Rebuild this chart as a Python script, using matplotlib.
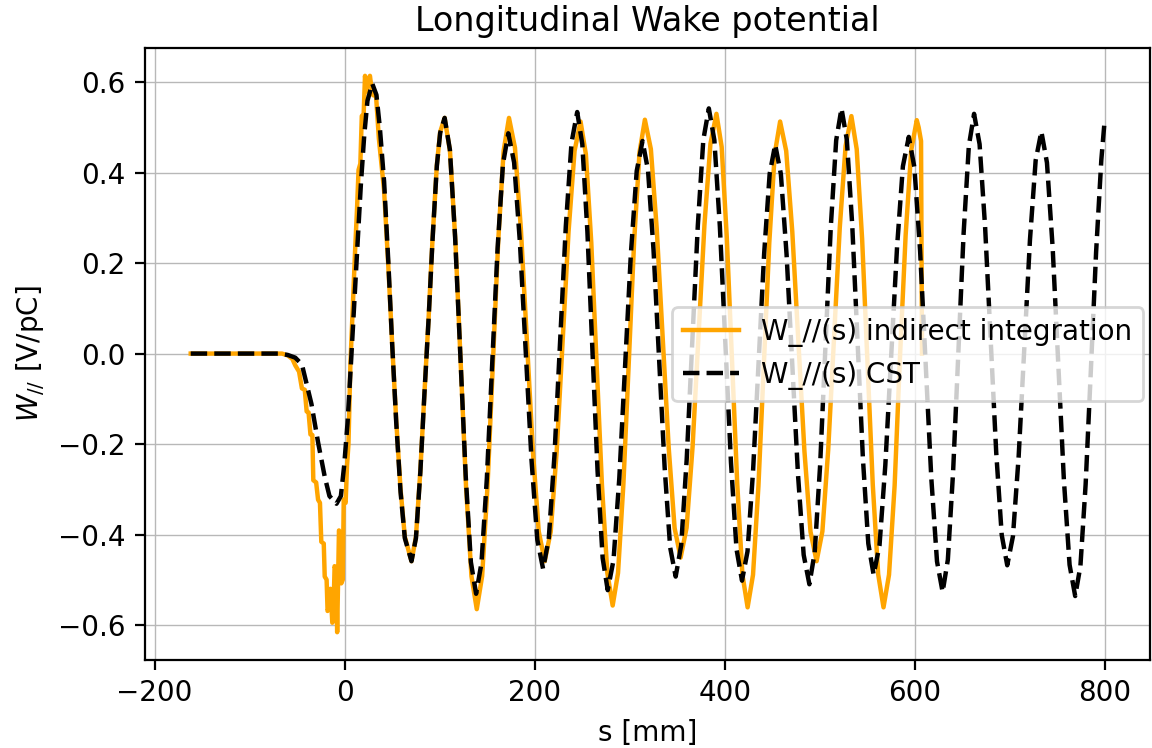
import matplotlib
matplotlib.use('Agg')
import matplotlib.pyplot as plt

# CST wake potential (s in mm, W in V/pC)
s_cst = [-162, -140, -120, -100, -80, -70, -60, -52, -45, -42, -35, -28, -21, -16, -8.6, -4, -0.5, 3, 6.5,
         10, 13.6, 17, 20.6, 24, 29, 33.4, 37, 41.5, 46, 50, 54.3, 58.8, 63.3, 70.3, 75, 79.6, 84, 88.3,
         92.5, 97, 100.5, 105.2,
         110.7, 116.2, 121.8, 127.3, 132.8, 138.3,
         143.95, 149.6, 155.25, 160.9, 166.55, 172.2,
         178.3, 184.4, 190.5, 196.6, 202.7, 208.8,
         214.8, 220.8, 226.75, 232.7, 238.7, 244.7,
         250.05, 255.4, 260.75, 266.1, 271.45, 276.8,
         282.9, 289.0, 295.1, 301.2, 307.3, 313.4,
         319.2, 325.0, 330.85, 336.7, 342.5, 348.3,
         354.1, 359.9, 365.75, 371.6, 377.4, 383.2,
         389.0, 394.8, 400.65, 406.5, 412.3, 418.1,
         423.9, 429.7, 435.55, 441.4, 447.2, 453.0,
         459.0, 465.0, 471.0, 477.0, 483.0, 489.0,
         494.6, 500.3, 505.9, 511.5, 517.2, 522.8,
         528.4, 534.1, 539.7, 545.3, 551.0, 556.6,
         562.8, 568.9, 575.1, 581.3, 587.4, 593.6,
         599.5, 605.5, 611.4, 617.3, 623.3, 629.2,
         634.7, 640.2, 645.75, 651.3, 656.8, 662.3,
         668.1, 673.9, 679.75, 685.6, 691.4, 697.2,
         703.2, 709.2, 715.15, 721.1, 727.1, 733.1,
         739.0, 745.0, 750.9, 756.8, 762.8, 768.7,
         774.2, 779.7, 785.2, 790.7, 796.2, 799.4]
w_cst = [0, 0, 0, 0, 0, 0, -0.003, -0.009, -0.024, -0.05, -0.111, -0.196, -0.272, -0.315, -0.332, -0.315,
         -0.247, -0.154, -0.026, 0.109, 0.245, 0.372, 0.483, 0.559, 0.597, 0.572, 0.50, 0.38, 0.20, 0.02,
         -0.154, -0.306, -0.408, -0.459, -0.408, -0.263, -0.086, 0.076, 0.253, 0.415, 0.488, 0.521,
         0.451, 0.258, -0.005, -0.268, -0.461, -0.531,
         -0.463, -0.2765, -0.022, 0.2325, 0.419, 0.487,
         0.4225, 0.246, 0.0055, -0.235, -0.4115, -0.476,
         -0.408, -0.2235, 0.029, 0.2815, 0.466, 0.534,
         0.463, 0.270, 0.0055, -0.259, -0.452, -0.523,
         -0.4565, -0.275, -0.0265, 0.222, 0.4035, 0.470,
         0.4055, 0.229, -0.0115, -0.252, -0.4285, -0.493,
         -0.424, -0.234, 0.0245, 0.283, 0.4725, 0.542,
         0.472, 0.281, 0.020, -0.241, -0.432, -0.502,
         -0.4374, -0.261, -0.020, 0.221, 0.3974, 0.462,
         0.397, 0.219, -0.024, -0.267, -0.445, -0.510,
         -0.4395, -0.247, 0.016, 0.279, 0.4715, 0.542,
         0.473, 0.284, 0.0265, -0.231, -0.420, -0.489,
         -0.424, -0.247, -0.005, 0.237, 0.414, 0.479,
         0.4116, 0.2275, -0.024, -0.2755, -0.4596, -0.527,
         -0.456, -0.263, 0.0015, 0.266, 0.459, 0.530,
         0.463, 0.2805, 0.031, -0.2185, -0.401, -0.468,
         -0.404, -0.228, 0.0115, 0.251, 0.427, 0.491,
         0.422, 0.234, -0.0225, -0.279, -0.467, -0.536,
         -0.470, -0.289, -0.0365, 0.224, 0.428, 0.508]

# Indirect integration wake potential
s_ind = [-162, -140, -120, -100, -80, -66, -60, -55, -52, -48, -45, -42, -40, -38, -36, -34, -33, -30,
         -28, -26, -24.6, -22, -21, -19, -18, -16, -15, -13, -12, -10.6, -9, -7.9, -6, -4.5, -3.6, -2,
         -1, 1, 2.5, 4, 6, 8.5, 11, 13, 14.6, 16.5, 18, 20, 21.4, 23, 24.5, 26.6, 28, 30, 33, 36,
         41.5, 46, 50, 54.3, 58.8, 63.3, 70.3, 75, 79.6, 84, 88.3, 92.5, 97, 100.5, 105.2,
         110.8, 116.5, 122.1, 127.7, 133.4, 139.0,
         144.65, 150.3, 155.95, 161.6, 167.25, 172.9,
         179.2, 185.4, 191.7, 198.0, 204.2, 210.5,
         216.8, 223.1, 229.35, 235.6, 241.9, 248.2,
         253.8, 259.5, 265.1, 270.7, 276.4, 282.0,
         287.65, 293.3, 298.95, 304.6, 310.25, 315.9,
         322.2, 328.4, 334.7, 341.0, 347.2, 353.5,
         359.8, 366.1, 372.35, 378.6, 384.9, 391.2,
         396.7, 402.1, 407.6, 413.1, 418.5, 424.0,
         429.7, 435.4, 441.1, 446.8, 452.5, 458.2,
         464.6, 471.0, 477.4, 483.8, 490.2, 496.6,
         502.7, 508.8, 514.9, 521.0, 527.1, 533.2,
         538.8, 544.5, 550.1, 555.7, 561.4, 567.0,
         572.8, 578.7, 584.5, 590.3, 596.2, 602.0,
         604.0, 606.5, 607.5]
w_ind = [0, 0, 0, 0, 0, 0, -0.004, -0.012, -0.026, -0.04, -0.077, -0.08, -0.128, -0.13, -0.179, -0.18,
         -0.28, -0.285, -0.323, -0.33, -0.416, -0.42, -0.493, -0.50, -0.569, -0.56, -0.52, -0.595, -0.59,
         -0.47, -0.48, -0.616, -0.391, -0.40, -0.508, -0.50, -0.323, -0.33, -0.247, -0.20, -0.026, 0.10,
         0.229, 0.32, 0.406, 0.42, 0.525, 0.53, 0.614, 0.58, 0.60, 0.614, 0.59, 0.571, 0.57, 0.475,
         0.36, 0.19, 0.02, -0.15, -0.30, -0.405, -0.459, -0.405, -0.26, -0.085, 0.078, 0.255, 0.417, 0.49, 0.521,
         0.448, 0.2495, -0.022, -0.2935, -0.492, -0.565,
         -0.492, -0.2935, -0.022, 0.2495, 0.448, 0.521,
         0.455, 0.276, 0.031, -0.214, -0.393, -0.459,
         -0.394, -0.216, 0.027, 0.270, 0.448, 0.513,
         0.441, 0.2455, -0.022, -0.2895, -0.485, -0.557,
         -0.485, -0.2885, -0.020, 0.2485, 0.445, 0.517,
         0.452, 0.275, 0.033, -0.209, -0.386, -0.451,
         -0.385, -0.206, 0.0395, 0.285, 0.464, 0.530,
         0.457, 0.257, -0.0155, -0.288, -0.488, -0.561,
         -0.489, -0.2925, -0.024, 0.2445, 0.441, 0.513,
         0.448, 0.270, 0.027, -0.216, -0.394, -0.459,
         -0.393, -0.213, 0.033, 0.279, 0.459, 0.525,
         0.452, 0.2535, -0.018, -0.2895, -0.488, -0.561,
         -0.489, -0.292, 0.0, 0.262, 0.450, 0.516,
         0.50, 0.47, 0.0]

DPI = 200
fig = plt.figure(figsize=(1152 / DPI, 748 / DPI), dpi=DPI)
ax = fig.add_axes([0.1259, 0.1176, 0.8724, 0.8182])
ax.plot(s_ind, w_ind, color='orange', lw=1.6, label='W_//(s) indirect integration')
ax.plot(s_cst, w_cst, color='k', linestyle='--', lw=1.6, label='W_//(s) CST')
ax.set_xlabel('s [mm]')
ax.set_ylabel(r'$W_{//}$ [V/pC]')
ax.set_title('Longitudinal Wake potential')
ax.grid(True, color='#b8b8b8', linewidth=0.5)
ax.legend(loc='center right', borderaxespad=0.25)
fig.savefig('out.png', dpi=DPI)
